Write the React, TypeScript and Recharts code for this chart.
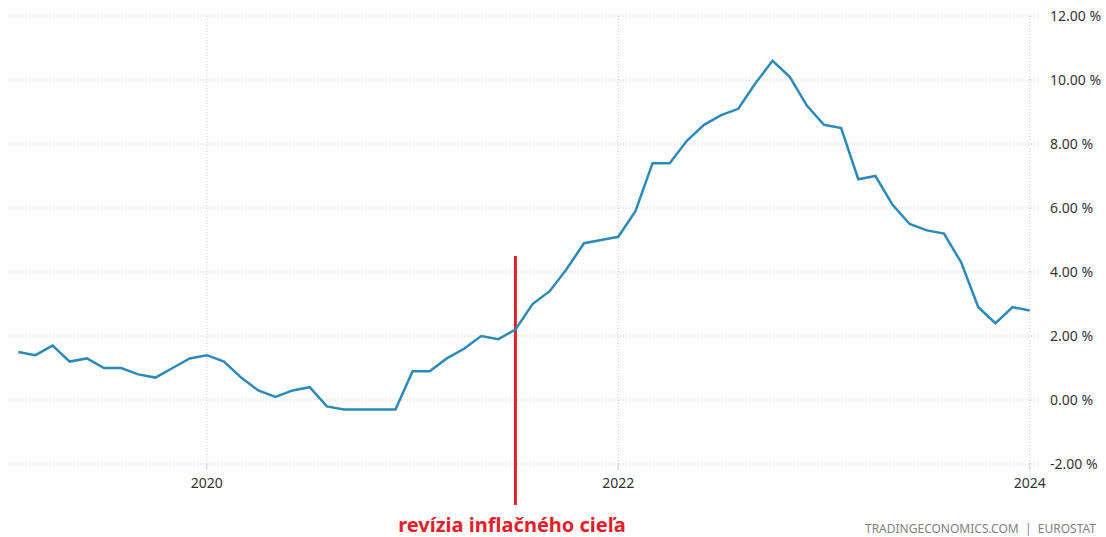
import React from "react";
import {
  LineChart,
  Line,
  XAxis,
  YAxis,
  CartesianGrid,
  ReferenceLine,
} from "recharts";

// euro area HICP, y/y %, Feb 2019 .. Jan 2024
const months = [
  "2019-02", "2019-03", "2019-04", "2019-05", "2019-06", "2019-07", "2019-08", "2019-09", "2019-10", "2019-11", "2019-12",
  "2020-01", "2020-02", "2020-03", "2020-04", "2020-05", "2020-06", "2020-07", "2020-08", "2020-09", "2020-10", "2020-11", "2020-12",
  "2021-01", "2021-02", "2021-03", "2021-04", "2021-05", "2021-06", "2021-07", "2021-08", "2021-09", "2021-10", "2021-11", "2021-12",
  "2022-01", "2022-02", "2022-03", "2022-04", "2022-05", "2022-06", "2022-07", "2022-08", "2022-09", "2022-10", "2022-11", "2022-12",
  "2023-01", "2023-02", "2023-03", "2023-04", "2023-05", "2023-06", "2023-07", "2023-08", "2023-09", "2023-10", "2023-11", "2023-12",
  "2024-01",
];

const inflation = [
  1.5, 1.4, 1.7, 1.2, 1.3, 1.0, 1.0, 0.8, 0.7, 1.0, 1.3,
  1.4, 1.2, 0.7, 0.3, 0.1, 0.3, 0.4, -0.2, -0.3, -0.3, -0.3, -0.3,
  0.9, 0.9, 1.3, 1.6, 2.0, 1.9, 2.2, 3.0, 3.4, 4.1, 4.9, 5.0,
  5.1, 5.9, 7.4, 7.4, 8.1, 8.6, 8.9, 9.1, 9.9, 10.6, 10.1, 9.2,
  8.6, 8.5, 6.9, 7.0, 6.1, 5.5, 5.3, 5.2, 4.3, 2.9, 2.4, 2.9,
  2.8,
];

const yearTicks = [12, 36, 60];
const yearLabels = ["2020", "2022", "2024"];
const yTicks = [-2, 0, 2, 4, 6, 8, 10, 12];

// months since Jan 2019
const monthIndex = (m: string) => {
  const [y, mo] = m.split("-").map(Number);
  return (y - 2019) * 12 + (mo - 1);
};

const data = months.map((m, i) => ({ t: monthIndex(m), value: inflation[i] }));

const reviewMonth = monthIndex("2021-07");

const font = "'Noto Sans', 'DejaVu Sans', sans-serif";
const gridColor = "#c8c8c8";

export default function App() {
  return (
    <div style={{ position: "absolute", left: 0, top: 0, width: 1106, height: 537, background: "#fff" }}>
      <LineChart
        width={1106}
        height={537}
        data={data}
        margin={{ top: 16, right: 0, bottom: 0, left: 8 }}
      >
        <CartesianGrid stroke={gridColor} strokeDasharray="1 2" vertical={false} />
        {yearTicks.map((t) => (
          <ReferenceLine key={t} x={t} stroke={gridColor} strokeDasharray="1 2" />
        ))}
        <XAxis
          dataKey="t"
          type="number"
          domain={[0.4, 60.6]}
          ticks={yearTicks}
          tickFormatter={(v: number) => yearLabels[yearTicks.indexOf(v)]}
          axisLine={false}
          tickLine={{ stroke: gridColor }}
          tickSize={6}
          tickMargin={8}
          height={73}
          tick={{ fill: "#333", fontSize: 14, fontFamily: font }}
        />
        <YAxis
          orientation="right"
          type="number"
          domain={[-2, 12]}
          ticks={yTicks}
          tickFormatter={(v: number) => v.toFixed(2) + " %"}
          axisLine={false}
          tickLine={false}
          tickSize={6}
          tickMargin={4}
          width={66}
          tick={{ fill: "#333", fontSize: 14, fontFamily: font, textAnchor: "start" }}
        />
        <ReferenceLine
          segment={[{ x: reviewMonth, y: 4.5 }, { x: reviewMonth, y: -3.28 }]}
          stroke="#e3202a"
          strokeWidth={3}
          ifOverflow="visible"
        />
        <Line
          type="linear"
          dataKey="value"
          stroke="#2b8ab8"
          strokeWidth={2.5}
          dot={false}
          isAnimationActive={false}
        />
      </LineChart>
      <div
        style={{
          position: "absolute",
          left: 312,
          width: 400,
          top: 511,
          textAlign: "center",
          color: "#e3202a",
          fontFamily: font,
          fontWeight: "bold",
          fontSize: 20,
        }}
      >
        revízia inflačného cieľa
      </div>
      <div
        style={{
          position: "absolute",
          right: 10,
          top: 520,
          color: "#808080",
          fontFamily: font,
          fontSize: 12,
          whiteSpace: "pre",
        }}
      >
        {"TRADINGECONOMICS.COM  |  EUROSTAT"}
      </div>
    </div>
  );
}
